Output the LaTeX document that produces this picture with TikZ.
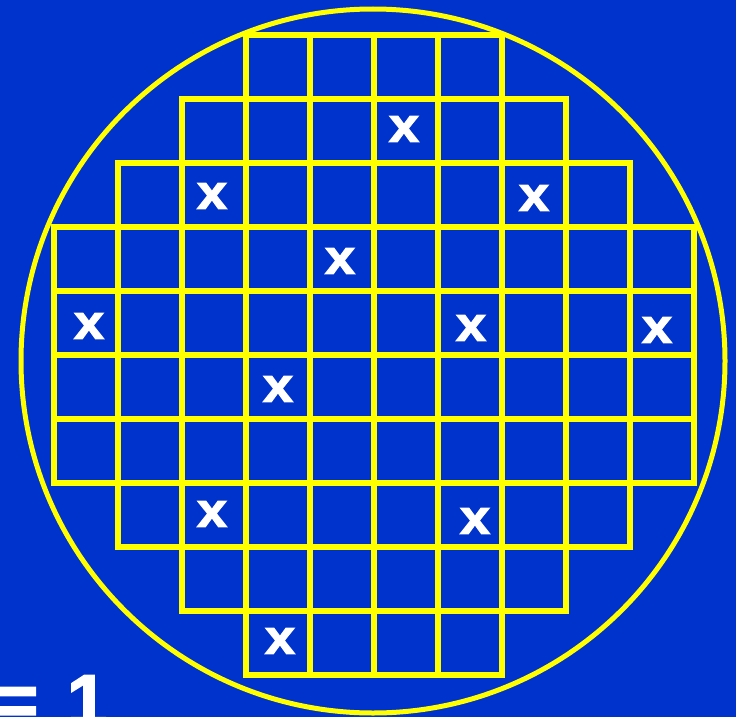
\documentclass[tikz,border=0pt]{standalone}
\usepackage{fontspec}
\setmainfont{Liberation Sans}
\newfontfamily\heavyfont[FakeBold=2.5]{Liberation Sans Bold}
\usepackage{tikz}
\usetikzlibrary{positioning}
\definecolor{waferblue}{RGB}{0,51,204}
\definecolor{gridyellow}{RGB}{255,255,0}
\tikzset{
  die/.style={draw=gridyellow,line width=5.5pt},
  wafer/.style={draw=gridyellow,line width=5pt},
  bad/.style={text=white,font=\fontsize{48}{48}\heavyfont,inner sep=0pt,xscale=1.12},
  result/.style={text=white,font=\fontsize{72}{72}\heavyfont,inner sep=0pt,anchor=base west}
}

\begin{document}
\begin{tikzpicture}[x=1pt,y=-1pt]
  \fill[waferblue] (0,0) rectangle (736,717);
  \useasboundingbox (0,0) rectangle (736,717);

  % wafer edge
  \draw[wafer] (373,361) circle[radius=352];

  % dies, row by row: row/first column/last column
  \foreach \r/\a/\b in {0/3/6,1/2/7,2/1/8,3/0/9,4/0/9,5/0/9,6/0/9,7/1/8,8/2/7,9/3/6}{
    \foreach \c in {\a,...,\b}
      \draw[die] (54+64*\c,35+64*\r) rectangle ++(64,64);
  }

  % defective dies
  \node[bad] (x1) at (404,129) {x};
  \node[bad] (x2) at (212,196) {x};
  \node[bad] (x3) at (534,198) {x};
  \node[bad] (x4) at (340,261) {x};
  \node[bad] (x5) at (89,326) {x};
  \node[bad] (x6) at (471,328) {x};
  \node[bad] (x7) at (657,330) {x};
  \node[bad] (x8) at (278,389) {x};
  \node[bad] (x9) at (212,514) {x};
  \node[bad] (x10) at (475,521) {x};
  \node[bad] (x11) at (280,641) {x};

  \node[result] (eq) at (-4,725) {= \hspace{9pt}1};
\end{tikzpicture}
\end{document}
